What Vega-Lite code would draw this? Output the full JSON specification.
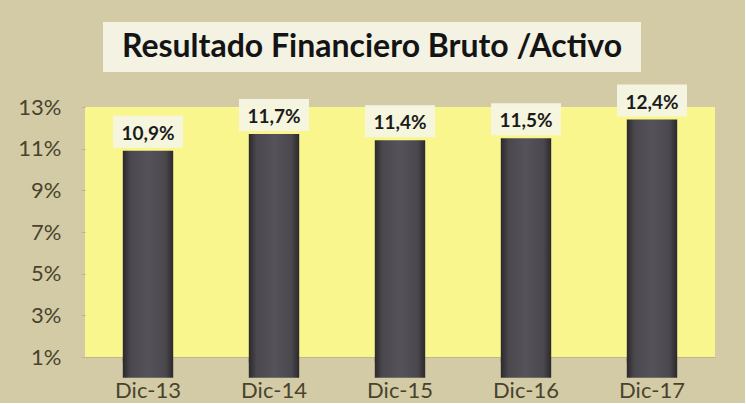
{
  "$schema": "https://vega.github.io/schema/vega-lite/v6.json",
  "background": "#d3cba5",
  "padding": {"left": 17, "top": 22, "right": 30, "bottom": 2},
  "config": {
    "font": "Lato",
    "view": {"stroke": null},
    "concat": {"spacing": 12},
    "locale": {"number": {"decimal": ",", "thousands": ".", "grouping": [3], "currency": ["", " €"]}}
  },
  "vconcat": [
    {
      "spacing": 0,
      "hconcat": [
        {
          "width": 18,
          "height": 50,
          "data": {"values": []},
          "mark": {"type": "text"},
          "encoding": {}
        },
        {
          "width": 538,
          "height": 50,
          "view": {"fill": "#f3f2e3", "stroke": null},
          "data": {"values": [{"titulo": "Resultado Financiero Bruto /Activo"}]},
          "mark": {"type": "text", "font": "Lato", "fontWeight": "bold", "fontSize": 32, "color": "#141414", "baseline": "middle", "align": "center"},
          "encoding": {"text": {"field": "titulo", "type": "nominal"}}
        }
      ]
    },
    {
      "width": 630,
      "height": 250,
      "view": {"fill": "#f9f68e", "stroke": null},
      "data": {"values": [
        {"periodo": "Dic-13", "valor": 0.109},
        {"periodo": "Dic-14", "valor": 0.117},
        {"periodo": "Dic-15", "valor": 0.114},
        {"periodo": "Dic-16", "valor": 0.115},
        {"periodo": "Dic-17", "valor": 0.124}
      ]},
      "encoding": {
        "x": {
          "field": "periodo", "type": "nominal", "sort": null,
          "scale": {"paddingInner": 0.6, "paddingOuter": 0.3},
          "axis": {"title": null, "labelAngle": 0, "labelFontSize": 22, "labelColor": "#48432e", "labelFont": "Lato", "domain": true, "domainColor": "#bdb591", "ticks": true, "tickSize": 5, "tickColor": "#bdb591", "bandPosition": 0, "labelPadding": 18}
        },
        "y": {
          "field": "valor", "type": "quantitative",
          "scale": {"domain": [0.01, 0.13], "zero": false, "nice": false},
          "axis": {"title": null, "values": [0.01, 0.03, 0.05, 0.07, 0.09, 0.11, 0.13], "format": ".0%", "labelFontSize": 22, "labelColor": "#48432e", "labelFont": "Lato", "domain": false, "grid": false, "ticks": true, "tickSize": 4, "tickColor": "#bdb591", "labelPadding": 20}
        }
      },
      "layer": [
        {
          "mark": {
            "type": "bar",
            "color": {"gradient": "linear", "x1": 0, "x2": 1, "y1": 0, "y2": 0, "stops": [
              {"offset": 0, "color": "#2c292d"},
              {"offset": 0.15, "color": "#4a474d"},
              {"offset": 0.5, "color": "#55525a"},
              {"offset": 0.85, "color": "#4a474d"},
              {"offset": 1, "color": "#2c292d"}
            ]}
          }
        },
        {
          "mark": {"type": "tick", "orient": "horizontal", "size": 70, "thickness": 32, "color": "#f6f5e3", "opacity": 0.95, "yOffset": -19}
        },
        {
          "mark": {"type": "text", "font": "Lato", "fontWeight": "bold", "fontSize": 19, "color": "#1b1b1b", "baseline": "middle", "yOffset": -17},
          "encoding": {"text": {"field": "valor", "type": "quantitative", "format": ".1%"}}
        }
      ]
    }
  ]
}
